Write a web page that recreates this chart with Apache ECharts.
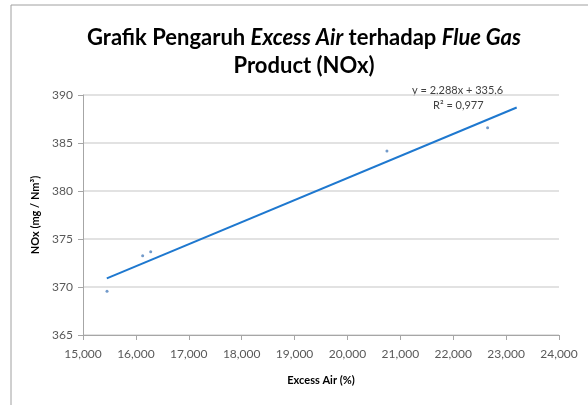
<!DOCTYPE html>
<html>
<head>
<meta charset="utf-8">
<script src="https://cdn.jsdelivr.net/npm/echarts@6/dist/echarts.min.js"></script>
<style>
  html, body { margin: 0; padding: 0; background: #fff; }
  #chart { width: 588px; height: 405px; }
</style>
</head>
<body>
<div id="chart"></div>
<script>
// data (excess air in the source's own units)
var excessAir = [15.454, 16.128, 16.28, 20.747, 22.65];
var noxValues = [369.55, 373.26, 373.68, 384.17, 386.6];
// trend line ends as drawn
var trendX = [15.45, 23.2];
var trendY = [370.9, 388.7];
var equationText = 'y = 2,288x + 335,6';
var r2Text = 'R\u00b2 = 0,977';

var points = [];
for (var i = 0; i < excessAir.length; i++) {
    points.push([excessAir[i], noxValues[i]]);
}
var trend = [];
for (var j = 0; j < trendX.length; j++) {
    trend.push([trendX[j], trendY[j]]);
}

var myChart = echarts.init(document.getElementById('chart'));
var fontName = 'Lato';

option = {
    backgroundColor: '#fff',
    animation: false,
    title: {
        text: '{b|Grafik Pengaruh }{i|Excess Air}{b| terhadap }{i|Flue Gas}\n{b|Product (NOx)}',
        left: 299,
        top: 19,
        textAlign: 'center',
        textStyle: {
            rich: {
                b: { fontFamily: fontName, fontSize: 22, fontWeight: 'bold', color: '#000', lineHeight: 28 },
                i: { fontFamily: fontName, fontSize: 22, fontWeight: 'bold', fontStyle: 'italic', color: '#000', lineHeight: 28 }
            }
        }
    },
    graphic: [
        {
            type: 'rect',
            shape: { x: 11, y: 5, width: 600, height: 420 },
            style: { fill: 'none', stroke: '#a0a0a0', lineWidth: 1 },
            z: -1
        },
        {
            type: 'text',
            left: 412,
            top: 85,
            style: { text: equationText, font: '11px ' + fontName, fill: '#404040' }
        },
        {
            type: 'text',
            left: 433,
            top: 100,
            style: { text: r2Text, font: '11px ' + fontName, fill: '#404040' }
        }
    ],
    grid: {
        left: 83,
        right: 29,
        top: 95,
        bottom: 70
    },
    xAxis: {
        type: 'value',
        min: 15,
        max: 24,
        interval: 1,
        name: 'Excess Air (%)',
        nameLocation: 'middle',
        nameGap: 40,
        nameTextStyle: { fontFamily: fontName, fontSize: 11, fontWeight: 'bold', color: '#000' },
        axisLine: { lineStyle: { color: '#a6a6a6' } },
        axisTick: { show: true, length: 5, lineStyle: { color: '#a6a6a6' } },
        axisLabel: {
            fontFamily: fontName,
            fontSize: 12,
            color: '#595959',
            margin: 13,
            formatter: function (v) { return v.toFixed(3).replace('.', ','); }
        },
        splitLine: { show: false }
    },
    yAxis: {
        type: 'value',
        min: 365,
        max: 390,
        interval: 5,
        name: 'NOx (mg / Nm\u00b3)',
        nameLocation: 'middle',
        nameGap: 40,
        nameRotate: 90,
        nameTextStyle: { fontFamily: fontName, fontSize: 11, fontWeight: 'bold', color: '#000' },
        axisLine: { show: true, lineStyle: { color: '#a6a6a6' } },
        axisTick: { show: true, length: 5, lineStyle: { color: '#a6a6a6' } },
        axisLabel: { fontFamily: fontName, fontSize: 12, color: '#595959', margin: 10 },
        splitLine: { show: true, lineStyle: { color: '#d9d9d9', width: 1.5 } }
    },
    series: [
        {
            name: 'trend',
            type: 'line',
            data: trend,
            symbol: 'none',
            lineStyle: { color: '#1e78cf', width: 2 },
            z: 2
        },
        {
            name: 'NOx',
            type: 'scatter',
            data: points,
            symbol: 'circle',
            symbolSize: 3,
            itemStyle: { color: '#4f81bd' },
            z: 3
        }
    ]
};
myChart.setOption(option);
</script>
</body>
</html>
